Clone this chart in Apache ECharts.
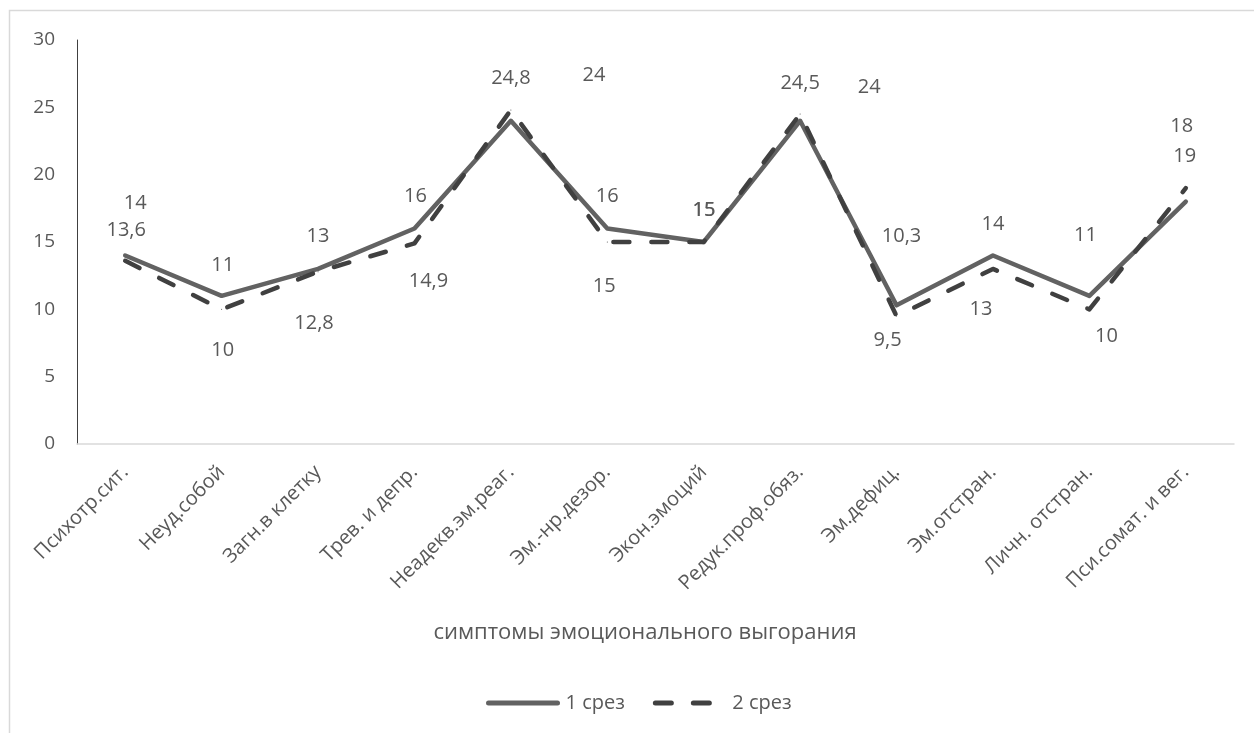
<!DOCTYPE html>
<html>
<head>
<meta charset="utf-8">
<script src="https://cdn.jsdelivr.net/npm/echarts@6/dist/echarts.min.js"></script>
<style>
  html, body { margin: 0; padding: 0; background: #fff; }
  #chart { width: 1254px; height: 733px; }
</style>
</head>
<body>
<div id="chart"></div>
<script>
// Symptom categories along the x axis
const categories = [
  'Психотр.сит.', 'Неуд.собой', 'Загн.в клетку', 'Трев. и депр.',
  'Неадекв.эм.реаг.', 'Эм.-нр.дезор.', 'Экон.эмоций', 'Редук.проф.обяз.',
  'Эм.дефиц.', 'Эм.отстран.', 'Личн. отстран.', 'Пси.сомат. и вег.'
];

// Scores for each survey round
const round1 = [14, 11, 13, 16, 24, 16, 15, 24, 10.3, 14, 11, 18];
const round2 = [13.6, 10, 12.8, 14.9, 24.8, 15, 15, 24.5, 9.5, 13, 10, 19];

const seriesNames = ['1 срез', '2 срез'];
const axisTitle = 'симптомы эмоционального выгорания';

// Hand-placed label offsets (px from each point)
const round1LabelOffsets = [
  [10, -52], [1, -31], [0, -33], [1, -32], [83, -46], [0, -32],
  [0, -32], [69, -34], [5, -69], [0, -31], [-4, -61], [-4, -75]
];
const round2LabelOffsets = [
  [1, -31], [1, 41], [-4, 52], [14, 38], [0, -32], [-3, 44],
  [0.6, -32], [0, -31], [-9, 24], [-12, 40], [17, 27], [-1, -32]
];

const textColor = '#595959';
const fontFamily = '"Open Sans", "DejaVu Sans", sans-serif';

function withLabels(values, offsets) {
  return values.map((v, i) => ({ value: v, label: { offset: offsets[i] } }));
}

const labelStyle = {
  show: true,
  position: 'inside',
  color: textColor,
  fontSize: 20,
  fontFamily: fontFamily,
  formatter: p => String(p.value).replace('.', ',')
};

const chart = echarts.init(document.getElementById('chart'));
chart.setOption({
  animation: false,
  backgroundColor: '#fff',
  textStyle: { fontFamily: fontFamily },
  grid: { left: 77, right: 20, top: 40, bottom: 289, containLabel: false },
  graphic: [
    {
      type: 'rect',
      shape: { x: 9.5, y: 10.5, width: 1300, height: 800 },
      style: { fill: 'none', stroke: '#d9d9d9', lineWidth: 1.5 },
      silent: true
    },
    {
      type: 'text',
      x: 645,
      y: 633,
      style: {
        text: axisTitle, fill: textColor, fontSize: 22, fontFamily: fontFamily,
        align: 'center', verticalAlign: 'middle'
      }
    }
  ],
  legend: {
    top: 693,
    left: 486,
    padding: 0,
    itemWidth: 69,
    itemHeight: 14,
    itemGap: 28,
    itemStyle: { opacity: 0 },
    lineStyle: { width: 5, cap: 'round' },
    textStyle: { color: textColor, fontSize: 20, fontFamily: fontFamily, padding: [0, 0, 0, 3] },
    data: seriesNames
  },
  xAxis: {
    type: 'category',
    data: categories,
    boundaryGap: true,
    axisLine: { show: true, lineStyle: { color: '#d9d9d9', width: 1.5 } },
    axisTick: { show: false },
    axisLabel: {
      rotate: 45,
      interval: 0,
      margin: 25,
      color: textColor,
      fontSize: 20,
      fontFamily: fontFamily
    },
    splitLine: { show: false }
  },
  yAxis: {
    type: 'value',
    min: 0,
    max: 30,
    interval: 5,
    axisLine: { show: true, lineStyle: { color: '#404040', width: 1 } },
    axisTick: { show: false },
    splitLine: { show: false },
    axisLabel: { color: textColor, fontSize: 19, margin: 22, fontFamily: fontFamily }
  },
  series: [
    {
      name: seriesNames[0],
      type: 'line',
      data: withLabels(round1, round1LabelOffsets),
      symbol: 'circle',
      symbolSize: 1,
      color: '#626262',
      itemStyle: { color: '#626262' },
      lineStyle: { color: '#626262', width: 4.5, cap: 'round', join: 'round' },
      label: labelStyle,
      z: 2
    },
    {
      name: seriesNames[1],
      type: 'line',
      data: withLabels(round2, round2LabelOffsets),
      symbol: 'circle',
      symbolSize: 1,
      color: '#404040',
      itemStyle: { color: '#404040' },
      lineStyle: { color: '#404040', width: 4.5, type: [16, 22], cap: 'round', join: 'round' },
      label: labelStyle,
      z: 3
    }
  ]
});
</script>
</body>
</html>
